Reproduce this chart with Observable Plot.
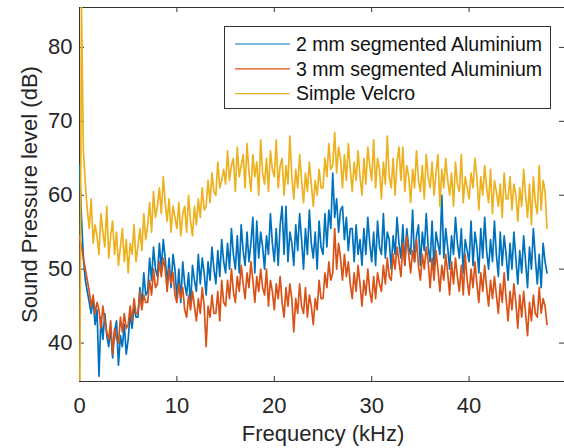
<!DOCTYPE html>
<html><head><meta charset="utf-8">
<script src="https://cdn.jsdelivr.net/npm/d3@7"></script>
<script src="https://cdn.jsdelivr.net/npm/@observablehq/plot@0.6"></script>
<style>
body{margin:0;background:#fff;}
#wrap{position:relative;width:564px;height:448px;overflow:hidden;font-family:"Liberation Sans",Arial,sans-serif;}
#legend{position:absolute;left:224px;top:26px;}
</style></head><body><div id="wrap"></div>
<script>
// Series names and colours
const seriesNames = ["2 mm segmented Aluminium", "3 mm segmented Aluminium", "Simple Velcro"];
const seriesColors = ["#0072BD", "#D95319", "#EDB120"];
const xTicks = [0, 10, 20, 30, 40];
const yTicks = [40, 50, 60, 70, 80];
const freqStep = 0.2; // kHz between samples

// Sound pressure level (dB), one sample every 0.2 kHz from 0 to 48 kHz (5 per kHz per row group)
const alu2mm = [
 64,57,51.5,48.5,47, 45.5,44,46,42.5,44.5, 35.5,43.5,40.5,44,41, 39.5,42,38,41.5,43, 37,41,39.5,42.5,38.5,
 40.5,44,42,45,43.5, 43.5,47.5,45,49.5,46.5, 47,51.5,48.5,53,50, 49,53.5,50,54,51.5, 48,51.5,47.5,52,50,
 46,50,45.5,51,48, 46.5,49.5,45,50.5,48.5, 47,52,48,51.5,49.5, 46.5,51,48.5,53,50, 48,52.5,49,54,51,
 49.5,53.5,50,55.5,52, 50,54.5,49.5,56,52.5, 50.5,55,51,53.5,57, 49.5,56.5,51.5,55,53, 50,54.5,52,57.5,53.5,
 51,55.5,50.5,56,58.5, 52,58.5,51,55,53.5, 50.5,56,52.5,57.5,54, 50,55.5,52,58,53.5, 51.5,55,50,56.5,53,
 52,57.5,53,58,55.5, 63,57,59.5,55,58, 58.5,54,57,52.5,55.5, 55.5,51,56,52,54, 50.5,55.5,52,57,53.5,
 51,55,50.5,56.5,53, 52,57.5,51.5,55,54, 50,54.5,52,57,53.5, 51.5,56,50.5,55.5,53, 52,58,51,54.5,56,
 50.5,55,52.5,57.5,53, 51,56.5,50,55,53.5, 52,60,51.5,55.5,53, 50,54.5,52,57,53.5, 51.5,55.5,49.5,54,52.5,
 51,56.5,50.5,55,53, 49.5,55.5,51.5,57,52.5, 50,54,51,56.5,52, 49,55,50.5,54.5,52, 48.5,53.5,50,55,51.5,
 48,52.5,49.5,54.5,51, 47.5,53,50,55.5,51.5, 48,52,47.5,53.5,51, 49.5
];
const alu3mm = [
 54.5,53,51.5,50,48.5, 47,45,46.5,44,45.5, 44.5,42,45,43,41.5, 40.5,43,38.5,42,40.5, 40,43.5,41.5,44,42,
 42.5,45,43,46,44, 44,47,44.5,46.5,45.5, 45.5,48.5,46.5,50,47.5, 48,51,49,51.5,50, 47,50,48,49.5,46.5,
 45.5,48,46,47.5,44.5, 43.5,46.5,44.5,47,45, 43,46,44,47.5,45, 39.5,45,43.5,46.5,44, 44,47,43,48.5,45.5,
 45,48.5,46,50,47, 45.5,49,47,50.5,48, 46,49.5,47.5,51,48.5, 45.5,49,47,50,47.5, 46.5,50,45,48.5,47,
 44.5,48,46,49,45.5, 43.5,47.5,45,48,46, 41.5,46,44,48,45, 44,47.5,43.5,46.5,45, 42.5,46,44.5,48.5,46,
 46,49.5,47.5,51,48.5, 49.5,55.5,50,53.5,51.5, 48.5,52,49,51,48, 46,49.5,47,50.5,48, 45,48.5,46.5,50,47,
 45.5,49,46,49.5,48, 47,50.5,48,51.5,49, 48.5,52,50,53,51, 49,53.5,50.5,54.5,52, 49.5,52.5,51,54,50.5,
 48.5,52,50,53,51, 47.5,51.5,48.5,52.5,50, 47,50.5,48.5,52,49.5, 46.5,51,48,51.5,49, 47,50.5,46.5,52,48.5,
 46.5,50,47.5,51,48, 45.5,49.5,47,50.5,47.5, 45,48.5,46,49,46.5, 44,48,45.5,49.5,46, 43,47,44.5,48,45.5,
 42,46.5,43.5,47,44, 41,45.5,43,46.5,44, 43.5,47.5,44,46,45, 42.5
];
const velcro = [
 20,86,66,61.5,58, 55.5,59.5,53.5,56,54.5, 52,57.5,55,53,58.5, 51.5,54.5,56.5,52,55, 50.5,53,55.5,51,54,
 49.5,53.5,52,56,51, 53,55.5,52.5,57.5,54, 56,59,55,60.5,57, 58.5,61,57.5,62.5,59, 56.5,59.5,55,58.5,57,
 55.5,59,54.5,57.5,58.5, 55,60,56.5,54.5,58.5, 56,59.5,57,61,58, 58.5,62,59,63,60.5, 60,64.5,61,62,63.5,
 61.5,66,62,64,65, 60.5,66.5,62.5,64,65.5, 61,67,63,60.5,65.5, 62.5,64.5,60,67.5,63, 61.5,65,60.5,66,63.5,
 62.5,67.5,61,64,65, 60,64,61.5,68,62.5, 59.5,63.5,61,65.5,62, 59,63,60.5,64.5,61.5, 58.5,62,60,63.5,61,
 61,65,62.5,67,63.5, 64,68.5,63,66.5,65, 61,65.5,62,67,63.5, 60.5,64.5,62,66,62.5, 60,65,61.5,66.5,64,
 62,67.5,61,65,63.5, 59.5,64.5,61.5,68,62.5, 61,65,60,64.5,66.5, 62,66.5,60.5,64,62.5, 59,63.5,61,66,62,
 60.5,64,59.5,65.5,62.5, 61,64.5,60,63,65.5, 58.5,63.5,61,65,62, 60,63,58.5,64.5,61.5, 60.5,65.5,59,62.5,61,
 59.5,63,61,65,62.5, 58,62.5,60,64,61, 59,63.5,57.5,62,60.5, 58.5,61.5,57,63,59.5, 59.5,62.5,58,61.5,60,
 56.5,61,58.5,63.5,60, 57,61.5,56,62.5,59, 57.5,64,58,62,60.5, 55.5
];
const seriesValues = [alu2mm, alu3mm, velcro];

const freq = alu2mm.map((_, i) => i * freqStep);

const axisColor = "#333333";
const font = '"Liberation Sans", Arial, Helvetica, sans-serif';
const tickLen = 5;
const W = 564, H = 448, mL = 79, mR = -2, mT = 7, mB = 67;
const frameW = W - mL - mR, frameH = H - mT - mB;

const lineMarks = seriesValues.map((vals, k) =>
  Plot.line(vals, {x: (d, i) => freq[i], y: d => d, stroke: seriesColors[k], strokeWidth: 1.7, clip: true})
);

const chart = Plot.plot({
  width: W,
  height: H,
  marginLeft: mL,
  marginRight: mR,
  marginTop: mT,
  marginBottom: mB,
  x: {domain: [0, 50]},
  y: {domain: [34.8, 85.4]},
  style: {fontFamily: font, fontSize: "22px", color: "#262626", background: "white", overflow: "visible"},
  marks: [
    Plot.frame({stroke: axisColor, strokeWidth: 1}),
    Plot.axisX(xTicks, {anchor: "bottom", tickSize: 0, tickPadding: 16, fontSize: 22,
      label: "Frequency (kHz)", labelAnchor: "center", labelArrow: "none", labelOffset: 59}),
    Plot.axisY(yTicks, {anchor: "left", tickSize: 0, tickPadding: 7, fontSize: 22,
      label: "Sound Pressure level (dB)", labelAnchor: "center", labelArrow: "none", labelOffset: 58}),
    // inward tick marks on all four sides
    Plot.tickX(xTicks, {x: d => d, insetTop: frameH - tickLen, stroke: axisColor}),
    Plot.tickX(xTicks, {x: d => d, insetBottom: frameH - tickLen, stroke: axisColor}),
    Plot.tickY(yTicks, {y: d => d, insetRight: frameW - tickLen, stroke: axisColor}),
    Plot.tickY(yTicks, {y: d => d, insetLeft: frameW - tickLen - 2, insetRight: 2, stroke: axisColor}),
    ...lineMarks
  ]
});

const wrap = document.getElementById("wrap");
wrap.appendChild(chart);

// Legend (inside the axes, top right)
const lw = 327, lh = 83;
const leg = d3.select(wrap).append("svg").attr("id", "legend")
  .attr("width", lw).attr("height", lh);
leg.append("rect").attr("x", 0.5).attr("y", 0.5).attr("width", lw - 1).attr("height", lh - 1)
  .attr("fill", "white").attr("stroke", axisColor).attr("stroke-width", 1);
seriesNames.forEach((name, k) => {
  const cy = 18 + k * 24.8;
  leg.append("line").attr("x1", 11).attr("x2", 66).attr("y1", cy).attr("y2", cy)
    .attr("stroke", seriesColors[k]).attr("stroke-width", 1.2);
  leg.append("text").attr("x", 72).attr("y", cy + 6.8).text(name)
    .attr("font-family", font).attr("font-size", 19.5).attr("fill", "#111");
});
</script>
</body></html>
